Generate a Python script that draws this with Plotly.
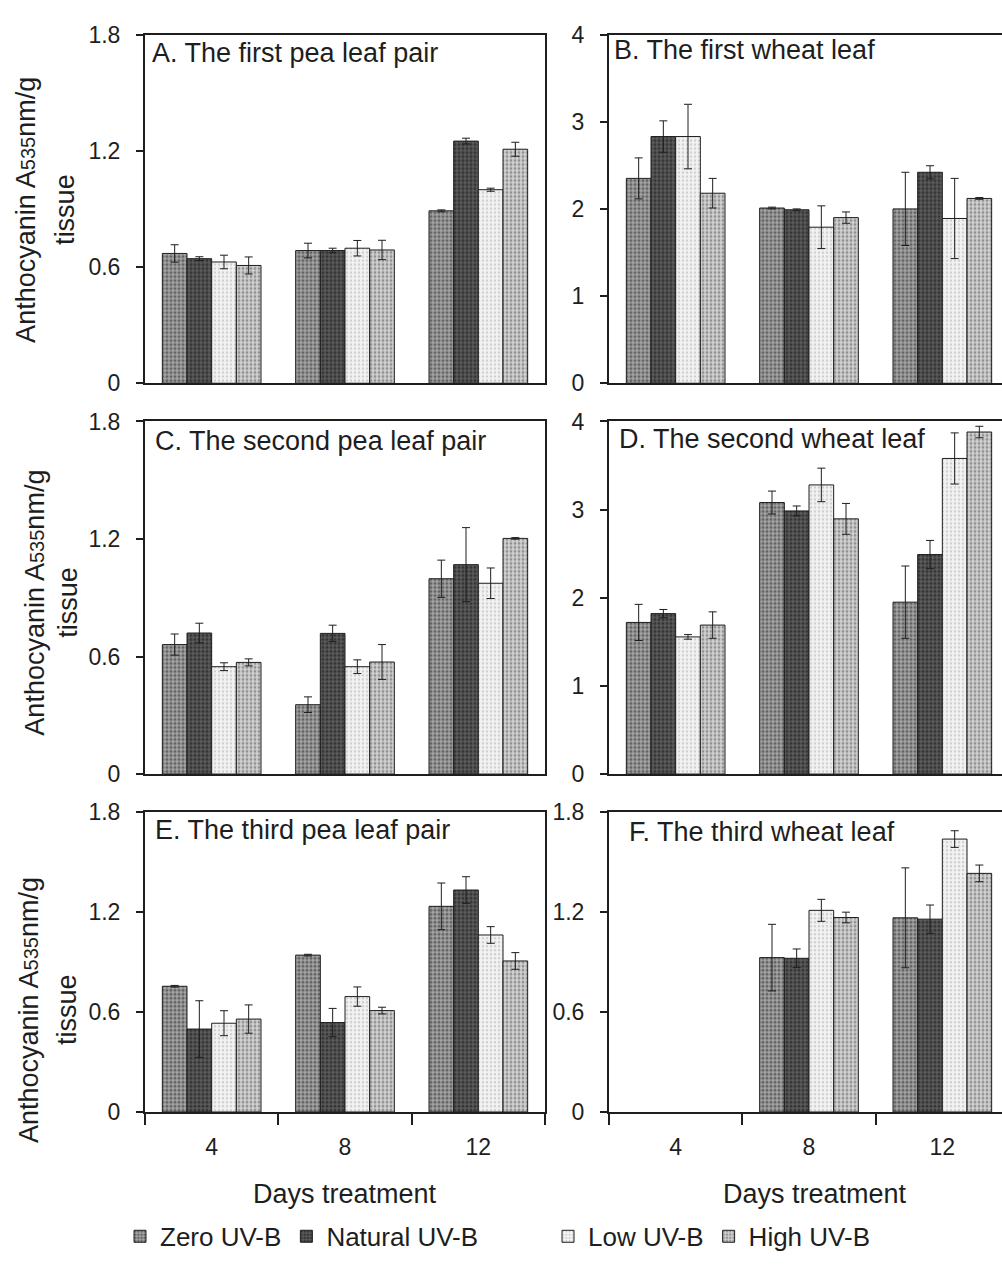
import plotly.graph_objects as go

W, H = 1002, 1267

days = ["4", "8", "12"]
treatments = ["Zero UV-B", "Natural UV-B", "Low UV-B", "High UV-B"]

# values per treatment (Zero, Natural, Low, High) across days 4, 8, 12
pea1_vals = [[0.67, 0.685, 0.89], [0.643, 0.685, 1.25], [0.626, 0.697, 0.999], [0.608, 0.688, 1.208]]
pea1_errs = [[0.045, 0.038, 0.005], [0.01, 0.012, 0.015], [0.035, 0.04, 0.008], [0.044, 0.05, 0.036]]

wheat1_vals = [[2.35, 2.01, 2.0], [2.83, 1.99, 2.42], [2.83, 1.79, 1.89], [2.18, 1.90, 2.12]]
wheat1_errs = [[0.235, 0.01, 0.42], [0.18, 0.01, 0.075], [0.37, 0.245, 0.46], [0.17, 0.065, 0.01]]

pea2_vals = [[0.661, 0.354, 0.997], [0.72, 0.718, 1.069], [0.548, 0.548, 0.974], [0.57, 0.572, 1.203]]
pea2_errs = [[0.054, 0.04, 0.095], [0.05, 0.042, 0.189], [0.02, 0.035, 0.078], [0.018, 0.089, 0.004]]

wheat2_vals = [[1.72, 3.08, 1.95], [1.82, 2.985, 2.49], [1.556, 3.28, 3.58], [1.69, 2.895, 3.88]]
wheat2_errs = [[0.205, 0.13, 0.41], [0.047, 0.056, 0.16], [0.026, 0.19, 0.29], [0.15, 0.175, 0.065]]

pea3_vals = [[0.755, 0.942, 1.235], [0.498, 0.537, 1.333], [0.533, 0.693, 1.063], [0.558, 0.609, 0.907]]
pea3_errs = [[0.005, 0.005, 0.14], [0.17, 0.085, 0.08], [0.075, 0.058, 0.05], [0.085, 0.02, 0.05]]

wheat3_vals = [[None, 0.927, 1.166], [None, 0.923, 1.158], [None, 1.211, 1.639], [None, 1.168, 1.433]]
wheat3_errs = [[0, 0.2, 0.3], [0, 0.056, 0.085], [0, 0.066, 0.05], [0, 0.032, 0.05]]

panel_titles = ["A. The first pea leaf pair", "B. The first wheat leaf",
                "C. The second pea leaf pair", "D. The second wheat leaf",
                "E. The third pea leaf pair", "F. The third wheat leaf"]

pea_ticks = [0, 0.6, 1.2, 1.8]
pea_ticktext = ["0", "0.6", "1.2", "1.8"]
wheat_ticks = [0, 1, 2, 3, 4]
wheat_ticktext = ["0", "1", "2", "3", "4"]

FONT = "Arial, Liberation Sans, sans-serif"
INK = "#1e1e1e"

patterns = [
    dict(shape=".", fgcolor="#222222", bgcolor="#a6a6a6", size=4, solidity=0.5),
    dict(shape=".", fgcolor="#0e0e0e", bgcolor="#5c5c5c", size=4, solidity=0.5),
    dict(shape=".", fgcolor="#ababab", bgcolor="#f2f2f2", size=4, solidity=0.3),
    dict(shape=".", fgcolor="#505050", bgcolor="#d2d2d2", size=4, solidity=0.4),
]

# pixel layout
left_x = (145, 545)
right_x = (609, 1002)
rows = [(22, 378), (417, 777), (816, 1122)]
cat_px = 400 / 3.0

def xdom(px):
    return [px[0] / W, px[1] / W]

def ydom(py):
    return [1 - py[1] / H, 1 - py[0] / H]

panels = [
    (pea1_vals, pea1_errs, "left", 0, "pea"),
    (wheat1_vals, wheat1_errs, "right", 0, "wheat"),
    (pea2_vals, pea2_errs, "left", 1, "pea"),
    (wheat2_vals, wheat2_errs, "right", 1, "wheat"),
    (pea3_vals, pea3_errs, "left", 2, "pea3"),
    (wheat3_vals, wheat3_errs, "right", 2, "pea3"),
]

fig = go.Figure()
layout = dict()
annotations = []

for i, (vals, errs, side, row, kind) in enumerate(panels):
    idx = i + 1
    xa = "x" if idx == 1 else f"x{idx}"
    ya = "y" if idx == 1 else f"y{idx}"
    for t in range(4):
        fig.add_trace(go.Bar(
            x=days, y=vals[t], name=treatments[t],
            xaxis=xa, yaxis=ya,
            marker=dict(color=patterns[t]["bgcolor"], pattern=patterns[t],
                        line=dict(color=INK, width=1)),
            error_y=dict(type="data", array=errs[t], color=INK, thickness=1, width=4),
            showlegend=(i == 0),
            legend="legend" if t < 2 else "legend2",
        ))
    xpx = left_x if side == "left" else right_x
    xrange_end = -0.5 + (xpx[1] - xpx[0]) / cat_px
    bottom = row == 2
    xkey = "xaxis" if idx == 1 else f"xaxis{idx}"
    ykey = "yaxis" if idx == 1 else f"yaxis{idx}"
    layout[xkey] = dict(
        domain=xdom(xpx), anchor=ya, type="category", range=[-0.5, xrange_end],
        showline=True, linecolor=INK, linewidth=2, mirror=True,
        showgrid=False, zeroline=False,
        ticks="outside" if bottom else "", tickson="boundaries",
        ticklen=11, tickwidth=1.5, tickcolor=INK,
        showticklabels=bottom, ticklabelstandoff=13,
        tickfont=dict(family=FONT, size=23, color=INK),
        fixedrange=True,
    )
    if kind == "wheat":
        tv, tt, yr = wheat_ticks, wheat_ticktext, [0, 4]
    else:
        tv, tt, yr = pea_ticks, pea_ticktext, [0, 1.8]
    layout[ykey] = dict(
        domain=ydom(rows[row]), anchor=xa, range=yr,
        tickvals=tv, ticktext=tt,
        showline=True, linecolor=INK, linewidth=2, mirror=(side == "left"),
        showgrid=False, zeroline=False,
        ticks="outside", ticklen=7, tickwidth=1.5, tickcolor=INK,
        ticklabelstandoff=11,
        tickfont=dict(family=FONT, size=23, color=INK),
        fixedrange=True,
    )

# panel titles
title_pos = [(150, 41), (612, 38), (153, 437), (617, 435), (153, 834), (627, 836)]
for (tx, ty), txt in zip(title_pos, panel_titles):
    annotations.append(dict(text=txt, x=tx / W, y=1 - ty / H, xref="paper", yref="paper",
                            xanchor="left", yanchor="middle", showarrow=False,
                            font=dict(family=FONT, size=27, color=INK)))

# y-axis titles
ytitle1 = 'Anthocyanin A<span style="font-size:20px">535</span>nm/g'
ytitle2 = "tissue"
ytitle_pos = [((26, 65), 201), ((35, 68), 602), ((29, 67), 1018)]
for (x1, x2), yc in ytitle_pos:
    annotations.append(dict(text=ytitle1, x=x1 / W, y=1 - yc / H, xref="paper", yref="paper",
                            xanchor="center", yanchor="middle", textangle=-90, showarrow=False,
                            font=dict(family=FONT, size=27, color=INK)))
    annotations.append(dict(text=ytitle2, x=x2 / W, y=1 - yc / H, xref="paper", yref="paper",
                            xanchor="center", yanchor="middle", textangle=-90, showarrow=False,
                            font=dict(family=FONT, size=27, color=INK)))

# x-axis titles
for xc in (345, 815):
    annotations.append(dict(text="Days treatment", x=xc / W, y=1 - 1206 / H, xref="paper", yref="paper",
                            xanchor="center", yanchor="middle", showarrow=False,
                            font=dict(family=FONT, size=27, color=INK)))

fig.update_layout(
    width=W, height=H,
    margin=dict(l=0, r=0, t=0, b=0),
    paper_bgcolor="white", plot_bgcolor="white",
    barmode="group", bargap=0.26, bargroupgap=0.0,
    annotations=annotations,
    legend=dict(orientation="h", x=120 / W, xanchor="left", y=1 - 1249 / H, yanchor="middle",
                font=dict(family=FONT, size=26, color=INK), itemwidth=30,
                bgcolor="rgba(0,0,0,0)", tracegroupgap=0),
    legend2=dict(orientation="h", x=548 / W, xanchor="left", y=1 - 1249 / H, yanchor="middle",
                 font=dict(family=FONT, size=26, color=INK), itemwidth=30,
                 bgcolor="rgba(0,0,0,0)", tracegroupgap=0),
    **layout,
)

fig.write_html("out.html")
